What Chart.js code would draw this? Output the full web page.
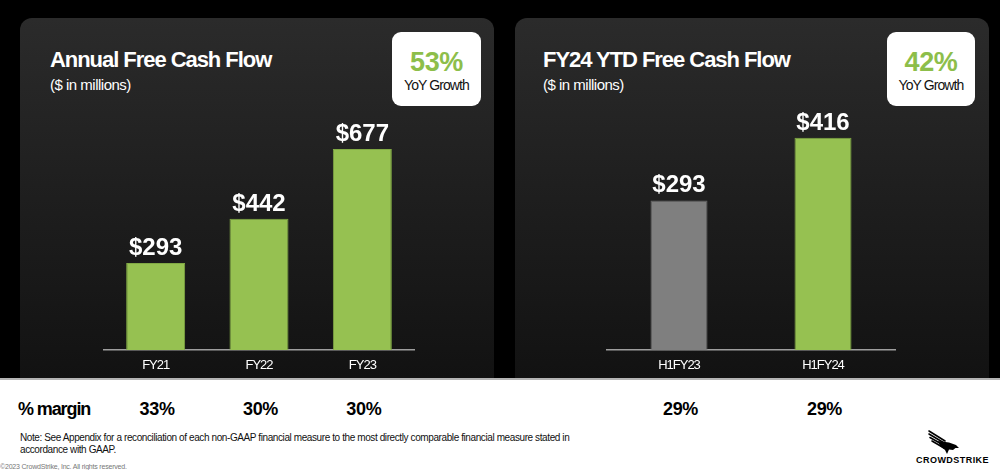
<!DOCTYPE html>
<html>
<head>
<meta charset="utf-8">
<script src="https://cdn.jsdelivr.net/npm/chart.js@4/dist/chart.umd.min.js"></script>
<style>
  html,body{margin:0;padding:0;}
  body{width:1000px;height:470px;position:relative;overflow:hidden;background:#fff;font-family:"Liberation Sans",Arial,sans-serif;}
  #top{position:absolute;left:0;top:0;width:1000px;height:378px;background:#000;}
  #rule{position:absolute;left:0;top:378px;width:1000px;height:2px;background:#b4b4b4;}
  .panel{position:absolute;top:18px;width:474px;height:360px;border-radius:12px 12px 0 0;
         background:linear-gradient(180deg,#2b2b2b 0%,#1e1e1e 50%,#121212 100%);}
  .title{position:absolute;color:#fff;font-weight:bold;font-size:22px;line-height:22px;letter-spacing:-1.05px;white-space:nowrap;}
  .sub{position:absolute;color:#fff;font-size:15px;line-height:15px;letter-spacing:-0.5px;white-space:nowrap;}
  .box{position:absolute;top:32px;height:74px;background:#fff;border-radius:9px;text-align:center;}
  .box .pct{position:absolute;left:0;right:0;top:17px;color:#8dbe4a;font-weight:bold;font-size:27px;line-height:27px;letter-spacing:-0.3px;}
  .box .lab{position:absolute;left:0;right:0;top:46px;color:#111;font-size:14px;line-height:14px;letter-spacing:-0.9px;}
  canvas{position:absolute;}
  .mval{position:absolute;top:400px;font-weight:bold;font-size:18px;line-height:18px;color:#000;transform:translateX(-50%);white-space:nowrap;letter-spacing:-0.3px;}
  #mlabel{position:absolute;left:18px;top:400px;font-weight:bold;font-size:18px;line-height:18px;letter-spacing:-1.1px;color:#000;}
  #note{position:absolute;left:20px;top:432px;font-size:10px;line-height:12px;letter-spacing:-0.4px;color:#111;white-space:nowrap;}
  #copy{position:absolute;left:0;top:463px;font-size:7px;line-height:8px;color:#777;white-space:nowrap;letter-spacing:-0.2px;}
  #logo{position:absolute;left:912px;top:429px;width:80px;height:36px;}
  #logotext{position:absolute;left:0;top:27px;width:77px;text-align:right;font-weight:bold;font-size:9px;line-height:9px;letter-spacing:0.45px;color:#000;}
</style>
</head>
<body>
<div id="top"></div>
<div id="rule"></div>
<div class="panel" style="left:20px"></div>
<div class="panel" style="left:515px"></div>

<div class="title" style="left:50px;top:49px">Annual Free Cash Flow</div>
<div class="sub" style="left:50px;top:77px">($ in millions)</div>
<div class="title" style="left:543px;top:49px">FY24 YTD Free Cash Flow</div>
<div class="sub" style="left:543px;top:77px">($ in millions)</div>

<div class="box" style="left:392px;width:89px"><div class="pct" id="g0"></div><div class="lab">YoY Growth</div></div>
<div class="box" style="left:887px;width:88px"><div class="pct" id="g1"></div><div class="lab">YoY Growth</div></div>

<canvas id="c1" width="474" height="278" style="left:20px;top:100px"></canvas>
<canvas id="c2" width="474" height="278" style="left:515px;top:100px"></canvas>

<div id="mlabel">% margin</div>
<div id="margins"></div>

<div id="note">Note: See Appendix for a reconciliation of each non-GAAP financial measure to the most directly comparable financial measure stated in<br>accordance with GAAP.</div>
<div id="copy">©2023 CrowdStrike, Inc. All rights reserved.</div>

<div id="logo">
  <svg width="80" height="28" viewBox="0 0 80 28" style="position:absolute;left:0;top:0">
    <g stroke="#000" stroke-width="1.6" stroke-linecap="round" fill="none">
      <line x1="17" y1="2" x2="33" y2="12"/>
      <line x1="17" y1="5" x2="33" y2="14.5"/>
      <line x1="18" y1="8.5" x2="33" y2="17"/>
      <line x1="20" y1="12" x2="32" y2="19"/>
    </g>
    <path d="M26 12 L37 13.5 L44 16 L47 19 L43.5 19 L41 21 L37 20.5 L35 25 L33 21 L28 17 Z" fill="#000"/>
  </svg>
  <div id="logotext">CROWDSTRIKE</div>
</div>

<script>
// ---- data ----
const annualLabels = ['FY21', 'FY22', 'FY23'];
const annualFCF = [293, 442, 677];
const annualMargin = [33, 30, 30];
const ytdLabels = ['H1FY23', 'H1FY24'];
const ytdFCF = [293, 416];
const ytdMargin = [29, 29];
const yoyGrowth = [53, 42];

const GREEN = '#96c151';
const GREEN_EDGE = '#80a944';
const GREY = '#7f7f7f';
const GREY_EDGE = '#6c6c6c';

document.getElementById('g0').textContent = yoyGrowth[0] + '%';
document.getElementById('g1').textContent = yoyGrowth[1] + '%';

const spacingPlugin = {
  id: 'spacing',
  beforeDraw(chart) { chart.ctx.letterSpacing = '-1px'; }
};

const valueLabels = {
  id: 'valueLabels',
  afterDatasetsDraw(chart) {
    const ctx = chart.ctx;
    const meta = chart.getDatasetMeta(0);
    const data = chart.data.datasets[0].data;
    ctx.save();
    ctx.letterSpacing = '0px';
    ctx.font = 'bold 24px "Liberation Sans", Arial, sans-serif';
    ctx.fillStyle = '#ffffff';
    ctx.textAlign = 'center';
    ctx.textBaseline = 'alphabetic';
    meta.data.forEach((bar, i) => {
      const p = bar.getProps(['x', 'y'], true);
      ctx.fillText('$' + data[i], p.x, p.y - 8);
    });
    ctx.restore();
  }
};

function makeChart(id, labels, values, colors, edges, yMax, pad, barPct) {
  return new Chart(document.getElementById(id), {
    type: 'bar',
    data: {
      labels: labels,
      datasets: [{
        data: values,
        backgroundColor: colors,
        borderColor: edges,
        borderWidth: 1,
        barPercentage: barPct,
        categoryPercentage: 1
      }]
    },
    options: {
      responsive: false,
      animation: false,
      devicePixelRatio: 1,
      layout: { padding: pad },
      plugins: { legend: { display: false }, tooltip: { enabled: false }, title: { display: false } },
      scales: {
        x: {
          grid: { display: false, drawTicks: false },
          border: { display: true, color: '#9e9e9e', width: 1.5 },
          ticks: { color: '#ffffff', font: { family: '"Liberation Sans", Arial, sans-serif', size: 13 }, padding: 8 },
          afterFit(s) { s.height = 28; }
        },
        y: { display: false, min: 0, max: yMax }
      }
    },
    plugins: [spacingPlugin, valueLabels]
  });
}

const c1 = makeChart('c1', annualLabels, annualFCF,
  annualFCF.map(() => GREEN), annualFCF.map(() => GREEN_EDGE),
  707, { left: 84, right: 80, top: 40, bottom: 0 }, 0.571);

const c2 = makeChart('c2', ytdLabels, ytdFCF,
  [GREY, GREEN], [GREY_EDGE, GREEN_EDGE],
  431, { left: 92, right: 94, top: 30, bottom: 0 }, 0.396);

// margin row aligned to each chart's category scale
const mwrap = document.getElementById('margins');
function placeMargins(chart, offset, vals) {
  vals.forEach((v, i) => {
    const d = document.createElement('div');
    d.className = 'mval';
    d.textContent = v + '%';
    d.style.left = (offset + chart.scales.x.getPixelForTick(i) + 1.5) + 'px';
    mwrap.appendChild(d);
  });
}
placeMargins(c1, 20, annualMargin);
placeMargins(c2, 515, ytdMargin);
</script>
</body>
</html>
